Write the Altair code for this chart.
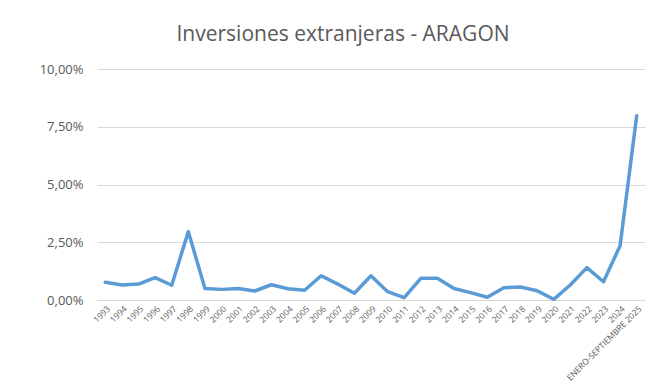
import altair as alt
import pandas as pd

years = [str(y) for y in range(1993, 2025)] + ["ENERO-SEPTIEMBRE 2025"]
values = [0.77, 0.65, 0.69, 0.97, 0.64, 2.96, 0.50, 0.46, 0.50, 0.39,
          0.66, 0.49, 0.42, 1.05, 0.69, 0.29, 1.05, 0.36, 0.10, 0.94,
          0.94, 0.50, 0.32, 0.12, 0.53, 0.56, 0.40, 0.03, 0.65, 1.40,
          0.79, 2.35, 7.98]

df = pd.DataFrame({"periodo": years, "valor": [v / 100 for v in values]})

chart = alt.Chart(df).mark_line(
    color="#5B9BD5", strokeWidth=3.5, strokeJoin="round", strokeCap="round"
).encode(
    x=alt.X("periodo:O", sort=years, title=None,
            axis=alt.Axis(labelAngle=-45, labelFontSize=8.5, labelColor="#595959",
                          labelFont="Open Sans", ticks=False, domain=True,
                          domainColor="#D9D9D9", labelPadding=4, labelOverlap=False,
                          grid=False)),
    y=alt.Y("valor:Q", title=None,
            scale=alt.Scale(domain=[0, 0.1], nice=False),
            axis=alt.Axis(values=[0, 0.025, 0.05, 0.075, 0.1],
                          labelExpr="replace(format(datum.value, '.2%'), '.', ',')",
                          labelFontSize=13, labelColor="#595959", labelFont="Open Sans",
                          ticks=False, domain=False, gridColor="#D9D9D9",
                          labelPadding=14)),
).properties(
    width=548, height=231,
    title=alt.TitleParams("Inversiones extranjeras - ARAGON", fontSize=21,
                          font="Open Sans", fontWeight="normal", color="#595959",
                          anchor="middle", dx=-28, offset=18),
    autosize=alt.AutoSizeParams(type="none"),
    padding={"left": 97, "top": 69, "right": 25, "bottom": 84},
).configure(background="white").configure_view(stroke=None)

chart.save("out.html", embed_options={"renderer": "svg", "actions": False})
